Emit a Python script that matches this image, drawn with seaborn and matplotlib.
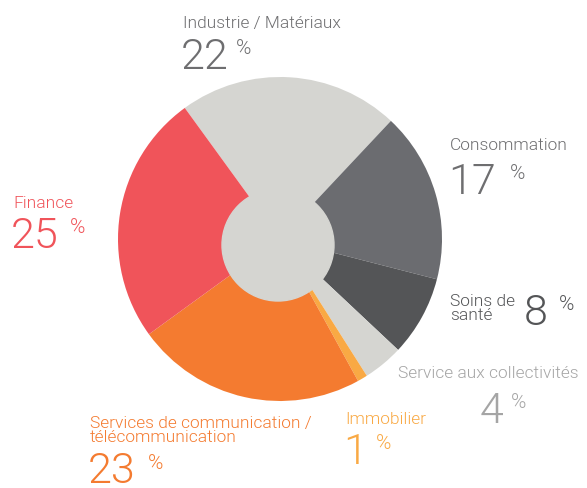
import matplotlib
matplotlib.use('Agg')
import matplotlib.pyplot as plt
from matplotlib.patches import Circle
import seaborn as sns

sns.set_theme(style='white')
plt.rcParams['font.family'] = ['Roboto', 'DejaVu Sans']

# data, clockwise from the top-left
sectors = ['Industrie / Matériaux', 'Consommation', 'Soins de\nsanté',
           'Service aux collectivités', 'Immobilier',
           'Services de communication /\ntélécommunication', 'Finance']
shares = [22, 17, 8, 4, 1, 23, 25]
slice_colors = ['#d5d5d1', '#6b6c70', '#545557', '#d5d5d1', '#f9a944', '#f47b30', '#f0545a']
text_colors = ['#6e6e70', '#6e6e70', '#545557', '#a5a5a5', '#f9a944', '#f47b30', '#f0545a']

W, H = 587, 489
fig = plt.figure(figsize=(W / 100, H / 100), dpi=100)
ax = fig.add_axes([0, 0, 1, 1])
ax.set_aspect('equal')
ax.axis('off')

cx, cy, r = 280, H - 240, 162
ax.pie(shares, colors=slice_colors, startangle=126, counterclock=False,
       center=(cx, cy), radius=r, wedgeprops=dict(linewidth=0))
ax.add_patch(Circle((cx - 2, cy - 6), 56, color=slice_colors[0], zorder=5))
ax.set_xlim(0, W)
ax.set_ylim(0, H)

# label layout (pixel coords from the top): label pos, number pos, % pos
layout = {
    'Industrie / Matériaux': ((183, 28), (181, 69), (236, 54)),
    'Consommation': ((450, 150), (448, 194), (510, 179)),
    'Soins de\nsanté': ((450, 320), (524, 325), (559, 310)),
    'Service aux collectivités': ((398, 378), (480, 423), (511, 408)),
    'Immobilier': ((345, 424), (343, 464), (376, 449)),
    'Services de communication /\ntélécommunication': ((90, 442), (88, 483), (148, 469)),
    'Finance': ((13, 208), (11, 248), (70, 233)),
}

for name, val, col in zip(sectors, shares, text_colors):
    (lx, ly), (nx, ny), (px, py) = layout[name]
    ax.text(lx, H - ly, name, color=col, fontsize=12.5, fontweight=300,
            va='baseline', ha='left', linespacing=0.9)
    ax.text(nx, H - ny, str(val), color=col, fontsize=31, fontweight=300,
            va='baseline', ha='left')
    ax.text(px, H - py, '%', color=col, fontsize=15, fontweight=300,
            va='baseline', ha='left')

fig.savefig('out.png', dpi=100)
